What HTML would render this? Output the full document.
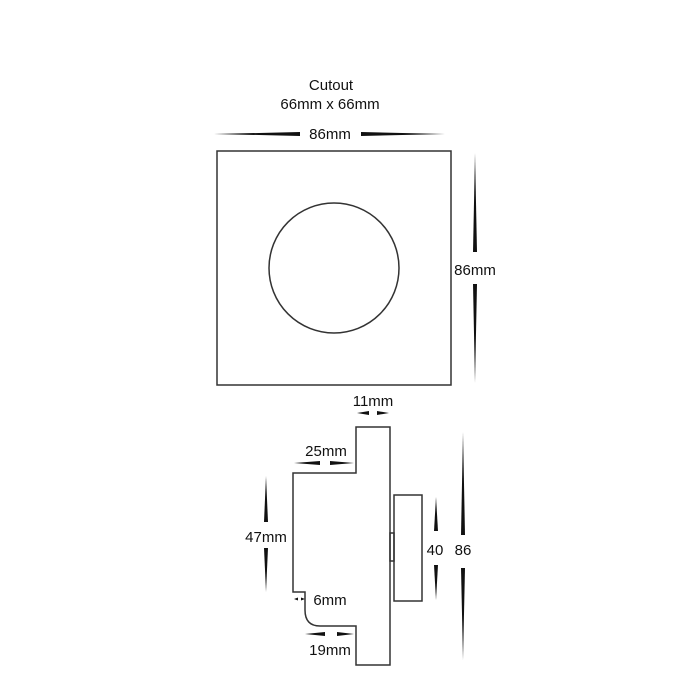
<!DOCTYPE html>
<html><head><style>
body{margin:0;background:#fff}
svg{display:block}
text{font-family:"Liberation Sans",sans-serif;font-size:15px;fill:#111}
</style></head><body>
<svg width="700" height="700" viewBox="0 0 700 700" xmlns="http://www.w3.org/2000/svg">
<rect width="700" height="700" fill="#fff"/>
<g text-anchor="middle">
<text x="331" y="90">Cutout</text>
<text x="330" y="109">66mm x 66mm</text>
<text x="330" y="139">86mm</text>
<text x="475" y="275">86mm</text>
<text x="373" y="406">11mm</text>
<text x="326" y="456">25mm</text>
<text x="266" y="542">47mm</text>
<text x="330" y="605">6mm</text>
<text x="330" y="655">19mm</text>
<text x="435" y="555">40</text>
<text x="463" y="555">86</text>
</g>
<g fill="#111">
<polygon points="214,134 300,132 300,136"/>
<polygon points="445,134 361,132 361,136"/>
<polygon points="475,153 473,252 477,252"/>
<polygon points="475,383 473,284 477,284"/>
<polygon points="357,413 369,411 369,415"/>
<polygon points="389,413 377,411 377,415"/>
<polygon points="294,463 320,461 320,465"/>
<polygon points="354,463 330,461 330,465"/>
<polygon points="266,476 264,522 268,522"/>
<polygon points="266,592 264,548 268,548"/>
<polygon points="436,497 434,531 438,531"/>
<polygon points="436,600 434,565 438,565"/>
<polygon points="463,432 461,535 465,535"/>
<polygon points="463,660 461,568 465,568"/>
<polygon points="294,599 298,597.5 298,600.5"/>
<polygon points="305,599 301,597.5 301,600.5"/>
<polygon points="305,634 325,632 325,636"/>
<polygon points="354,634 337,632 337,636"/>
</g>
<g fill="none" stroke="#333" stroke-width="1.5">
<rect x="217" y="151" width="234" height="234"/>
<circle cx="334" cy="268" r="65"/>
<path d="M356,427 L390,427 L390,665 L356,665 L356,626 L320,626 Q305,626 305,610 L305,592 L293,592 L293,473 L356,473 Z"/>
<rect x="394" y="495" width="28" height="106"/>
<rect x="390" y="533" width="4" height="28"/>
</g>
</svg>
</body></html>
